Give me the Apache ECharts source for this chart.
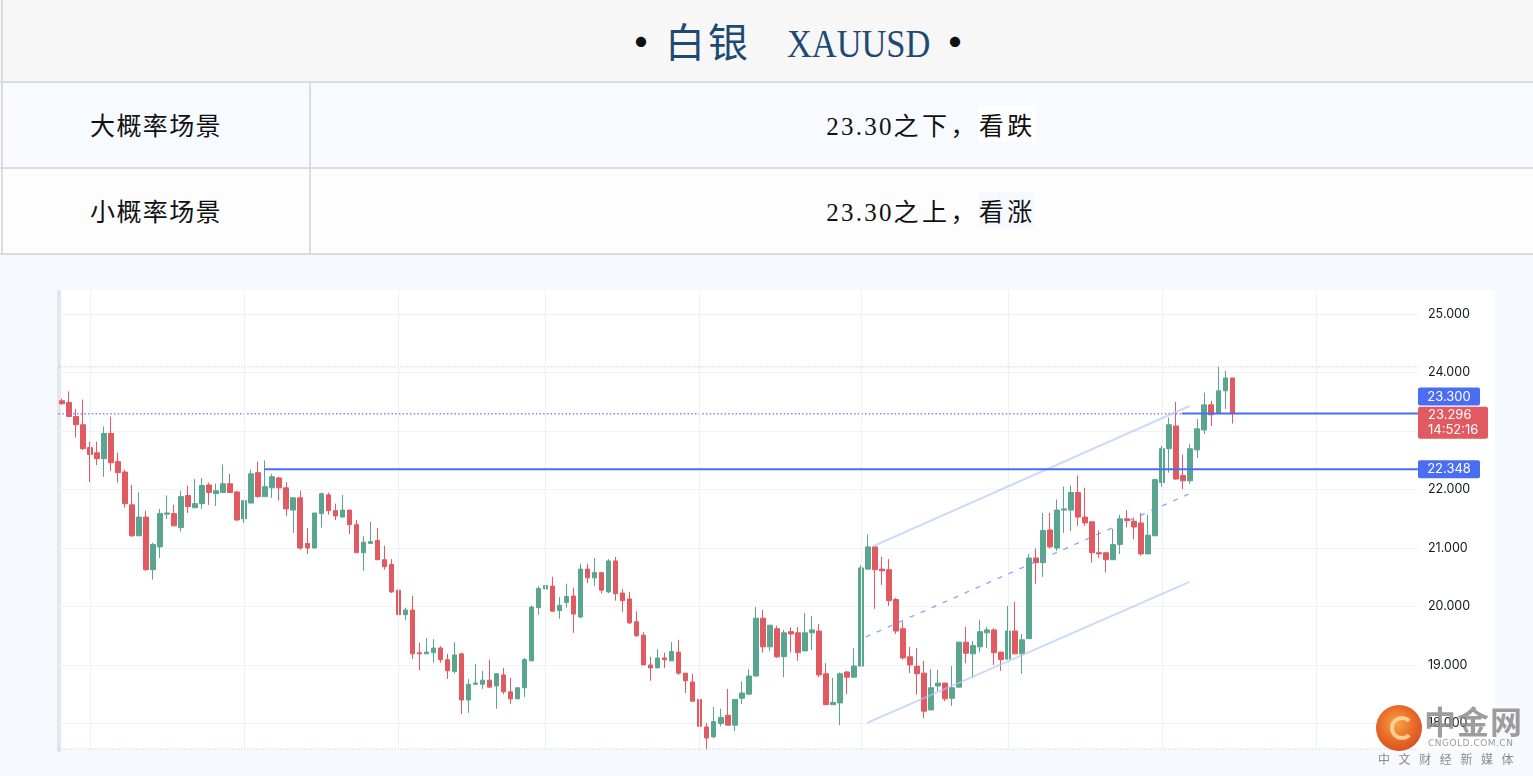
<!DOCTYPE html>
<html>
<head>
<meta charset="utf-8">
<script src="https://cdn.jsdelivr.net/npm/echarts@6/dist/echarts.min.js"></script>
<style>
html,body{margin:0;padding:0;width:1533px;height:776px;overflow:hidden;background:#f6f9fe;font-family:"Noto Sans CJK SC",sans-serif;}
.abs{position:absolute;}
.hline{position:absolute;left:0;width:1533px;height:2px;background:#dcdcdc;}
.serif{font-family:"Liberation Serif","DejaVu Serif",serif;}
.cjk{font-family:"Noto Sans CJK SC",sans-serif;}
</style>
</head>
<body>
<!-- header table -->
<div class="abs" style="left:0;top:0;width:1533px;height:82px;background:#f7f7f7;"></div>
<div class="abs" style="left:0;top:83px;width:1533px;height:85px;background:#f7faff;"></div>
<div class="abs" style="left:0;top:169px;width:1533px;height:85px;background:#fdfdfd;"></div>
<div class="hline" style="top:81px;"></div>
<div class="hline" style="top:167px;"></div>
<div class="hline" style="top:253px;"></div>
<div class="abs" style="left:1px;top:0;width:2px;height:254px;background:#dcdcdc;"></div>
<div class="abs" style="left:309px;top:82px;width:2px;height:172px;background:#dcdcdc;"></div>

<div class="abs" style="left:798px;top:12px;transform:translateX(-50%);white-space:nowrap;color:#1d4a72;font-size:40px;line-height:56px;">
  <span class="cjk" style="color:#111;margin-right:4px;font-weight:bold;">•</span><span class="cjk" style="letter-spacing:3px;">白银</span><span class="serif" style="display:inline-block;width:36px;"></span><span class="serif" style="display:inline-block;transform:scaleX(0.86);transform-origin:left center;width:143px;">XAUUSD</span><span class="cjk" style="color:#111;margin-left:5px;font-weight:bold;">•</span>
</div>

<div class="abs cjk" style="left:156px;top:104px;transform:translateX(-50%);white-space:nowrap;color:#111;font-size:25px;line-height:40px;letter-spacing:1.4px;">大概率场景</div>
<div class="abs cjk" style="left:156px;top:190px;transform:translateX(-50%);white-space:nowrap;color:#111;font-size:25px;line-height:40px;letter-spacing:1.4px;">小概率场景</div>

<div class="abs" style="left:931px;top:104px;transform:translateX(-50%);white-space:nowrap;color:#111;line-height:40px;">
  <span class="serif" style="font-size:25px;letter-spacing:2.2px;">23.30</span><span class="cjk" style="font-size:25px;letter-spacing:3.4px;">之下，</span><span class="cjk" style="font-size:25px;letter-spacing:3.4px;background:#ffffff;">看跌</span>
</div>
<div class="abs" style="left:931px;top:190px;transform:translateX(-50%);white-space:nowrap;color:#111;line-height:40px;">
  <span class="serif" style="font-size:25px;letter-spacing:2.2px;">23.30</span><span class="cjk" style="font-size:25px;letter-spacing:3.4px;">之上，</span><span class="cjk" style="font-size:25px;letter-spacing:3.4px;background:#f6f9ff;">看涨</span>
</div>

<!-- chart image background -->
<div class="abs" style="left:58px;top:290px;width:1437px;height:460px;background:#ffffff;"></div>
<div class="abs" style="left:57px;top:290px;width:4px;height:462px;background:#e2e6ef;"></div>

<div id="chart" class="abs" style="left:0;top:0;width:1533px;height:776px;"></div>

<!-- watermark -->
<div class="abs" style="left:1376px;top:705px;width:46px;height:46px;border-radius:50%;background:radial-gradient(circle at 45% 40%,#f5a03a 0%,#e8641c 45%,#c8300f 100%);opacity:0.95;"></div>
<div class="abs" style="left:1390px;top:716px;width:16px;height:16px;border-radius:50%;border:4px solid #fbd59a;border-right-color:transparent;opacity:0.9;"></div>
<div class="abs cjk" style="left:1424px;top:698px;font-size:32px;font-weight:bold;color:#8c8c8c;opacity:0.85;line-height:44px;letter-spacing:1px;">中金网</div>
<div class="abs" style="left:1428px;top:738px;font-family:'DejaVu Sans',sans-serif;font-size:9px;color:#9a9a9a;letter-spacing:0.5px;">CNGOLD.COM.CN</div>
<div class="abs cjk" style="left:1378px;top:750px;font-size:12px;color:#8a8a8a;letter-spacing:8.6px;white-space:nowrap;">中文财经新媒体</div>

<script>
// ---- data (open, close, low, high) ----
const ohlc = [
[23.52,23.47,23.45,23.56],[23.49,23.25,23.24,23.68],[23.25,23.11,22.89,23.38],[23.11,22.70,22.68,23.54],
[22.72,22.60,22.13,22.82],[22.63,22.53,22.42,22.82],[22.53,22.96,22.22,23.08],[22.96,22.46,22.32,23.25],
[22.48,22.29,22.12,22.63],[22.30,21.76,21.69,22.34],[21.74,21.21,21.19,22.08],[21.21,21.53,21.21,21.95],
[21.53,20.63,20.61,21.64],[20.63,21.06,20.46,21.09],[21.02,21.59,20.83,21.67],[21.58,21.60,21.50,21.90],
[21.59,21.38,21.38,21.74],[21.35,21.88,21.28,21.98],[21.90,21.71,21.60,22.07],[21.69,21.76,21.69,22.18],
[21.76,22.07,21.67,22.20],[22.08,21.95,21.74,22.12],[21.93,21.98,21.72,22.10],[21.95,22.10,21.95,22.43],
[22.10,21.95,21.95,22.27],[21.96,21.48,21.46,21.98],[21.50,21.81,21.43,21.81],[21.77,22.27,21.77,22.34],
[22.29,21.88,21.86,22.48],[21.88,22.05,21.88,22.50],[22.03,22.22,21.86,22.27],[22.20,22.03,21.81,22.22],
[22.03,21.67,21.55,22.13],[21.65,21.86,21.26,21.86],[21.86,21.00,20.97,21.98],[21.08,21.00,20.90,21.34],
[21.00,21.60,21.00,21.60],[21.59,21.93,21.35,21.95],[21.91,21.64,21.57,21.95],[21.64,21.55,21.48,21.76],
[21.53,21.65,21.52,21.91],[21.65,21.40,21.24,21.65],[21.40,20.92,20.92,21.48],[20.92,21.10,20.61,21.21],
[21.08,21.11,21.08,21.45],[21.13,20.80,20.80,21.34],[20.80,20.68,20.63,21.04],[20.72,20.25,20.23,20.81],
[20.28,19.86,19.38,20.30],[19.86,19.94,19.77,19.98],[19.94,19.19,19.10,20.18],[19.21,19.19,18.91,19.38],
[19.19,19.22,19.19,19.46],[19.21,19.29,19.04,19.44],[19.29,19.09,19.04,19.32],[19.09,18.90,18.76,19.19],
[18.89,19.17,18.85,19.39],[19.19,18.40,18.16,19.21],[18.40,18.67,18.18,18.76],[18.67,18.69,18.66,19.02],
[18.67,18.74,18.59,18.90],[18.74,18.62,18.62,19.09],[18.64,18.85,18.25,18.86],[18.83,18.54,18.50,18.95],
[18.54,18.42,18.33,18.78],[18.42,18.61,18.42,18.61],[18.61,19.09,18.45,19.12],[19.07,19.99,19.07,20.02],
[19.98,20.31,19.86,20.35],[20.30,20.36,20.10,20.51],[20.35,19.92,19.92,20.51],[19.93,20.02,19.79,20.16],
[20.07,20.17,19.98,20.39],[20.18,19.87,19.55,20.32],[19.82,20.64,19.80,20.73],[20.64,20.49,20.40,20.73],
[20.49,20.58,20.35,20.83],[20.58,20.28,20.22,20.58],[20.25,20.78,20.23,20.81],[20.78,20.22,20.10,20.85],
[20.23,20.10,19.91,20.30],[20.13,19.72,19.70,20.25],[19.74,19.50,19.48,19.92],[19.51,19.00,19.00,19.56],
[19.00,18.95,18.73,19.14],[18.95,19.12,18.95,19.27],[19.12,19.09,18.95,19.21],[19.07,19.23,19.07,19.39],
[19.22,18.86,18.83,19.43],[18.86,18.73,18.52,18.86],[18.71,18.38,18.37,18.85],[18.41,17.95,17.95,18.54],
[17.94,17.75,17.56,18.01],[17.77,18.03,17.75,18.28],[18.00,18.10,17.95,18.25],[18.14,17.97,17.97,18.59],
[17.97,18.41,17.87,18.41],[18.43,18.52,18.33,18.72],[18.50,18.81,18.50,18.93],[18.81,19.80,18.81,19.99],
[19.80,19.31,19.21,19.94],[19.31,19.68,19.24,19.68],[19.62,19.14,19.12,19.67],[19.14,19.55,18.79,19.60],
[19.57,19.53,19.21,19.64],[19.55,19.21,19.07,19.65],[19.24,19.55,19.24,19.89],[19.55,19.60,19.26,19.84],
[19.58,18.83,18.79,19.70],[18.85,18.32,18.32,19.03],[18.32,18.36,18.32,18.78],[18.35,18.85,17.97,18.87],
[18.88,18.79,18.50,18.90],[18.79,18.98,18.79,19.29],[18.98,20.66,18.98,20.71],[20.64,21.02,20.63,21.23],
[21.02,20.63,19.96,21.02],[20.64,20.61,20.37,20.85],[20.63,20.10,20.01,20.81],[20.12,19.58,19.53,20.15],
[19.62,19.12,19.09,19.74],[19.14,19.00,18.86,19.31],[18.98,18.85,18.49,19.29],[18.86,18.21,18.09,19.07],
[18.23,18.61,18.23,18.93],[18.64,18.69,18.55,18.92],[18.69,18.42,18.38,18.69],[18.43,18.61,18.30,18.98],
[18.62,19.39,18.62,19.39],[19.39,19.20,19.03,19.65],[19.19,19.33,18.78,19.41],[19.31,19.57,19.22,19.77],
[19.55,19.60,19.29,19.65],[19.60,19.21,19.00,19.63],[19.22,19.09,18.90,19.22],[19.10,19.58,19.10,20.01],
[19.58,19.19,19.19,20.08],[19.19,19.43,18.85,19.53],[19.45,20.83,19.45,20.90],[20.83,20.75,20.39,20.99],
[20.75,21.30,20.51,21.60],[21.31,21.02,20.99,21.60],[21.00,21.65,20.95,21.83],[21.65,21.67,21.26,22.05],
[21.65,21.95,21.29,22.07],[21.95,21.53,21.38,22.24],[21.53,21.43,21.38,22.03],[21.45,20.92,20.75,21.45],
[20.92,20.90,20.83,21.30],[20.92,20.80,20.58,20.92],[20.80,21.06,20.80,21.33],[21.06,21.50,20.90,21.57],
[21.50,21.47,21.35,21.65],[21.46,21.36,21.15,21.52],[21.43,20.90,20.87,21.60],[20.90,21.22,20.90,21.57],
[21.21,22.17,21.21,22.19],[22.12,22.70,22.05,22.75],[22.70,23.11,22.29,23.23],[23.09,22.18,22.17,23.50],
[22.24,22.15,22.01,22.60],[22.15,22.70,22.10,22.78],[22.68,23.04,22.54,23.21],[23.02,23.45,22.95,23.66],
[23.45,23.28,23.09,23.52],[23.30,23.69,23.30,24.10],[23.69,23.91,23.38,24.03],[23.91,23.296,23.13,23.91]
];
const emptyBarsRight = 26;
const yTicks = [18, 19, 20, 21, 22, 23, 24, 25];
const monthStarts = [4, 26, 48, 69, 91, 114, 135, 157, 179];
// channel drawn on the chart: [barIndex, price]
const channelUpper = [[115.7, 21.03], [160.9, 23.43]];
const channelMid   = [[114.7, 19.48], [160.9, 21.93]];
const channelLower = [[114.9, 18.01], [160.9, 20.42]];
// horizontal levels
const supportLevel = 22.348, supportFrom = 28.9;
const keyLevel = 23.300, keyFrom = 159.8;
const lastPrice = 23.296;
const countdown = '14:52:16';

// ---- build ----
const nCat = ohlc.length + emptyBarsRight;
const categories = Array.from({length: nCat}, (_, i) => String(i));
const xEnd = nCat - 0.5;
const hiAll = Math.max(...ohlc.map(d => d[3]));
const loAll = Math.min(...ohlc.map(d => d[2]));

const UP = '#5aa58e', DOWN = '#e25a61', BLUE = '#4b6df4';

const chart = echarts.init(document.getElementById('chart'), null, {renderer: 'canvas'});
const grid = {left: 58.5, top: 290, width: 1359.5, height: 460};

function seg(pts, color, width, type, z) {
  return {type: 'line', xAxisIndex: 1, yAxisIndex: 0, data: pts, showSymbol: false, symbol: 'none',
    silent: true, animation: false, z: z || 5,
    lineStyle: {color: color, width: width, type: type || 'solid'}};
}

chart.setOption({
  animation: false,
  backgroundColor: 'transparent',
  grid: grid,
  xAxis: [
    {type: 'category', data: categories, boundaryGap: true,
     axisLine: {show: false}, axisTick: {show: false}, axisLabel: {show: false}, splitLine: {show: false}},
    {type: 'value', min: -0.5, max: xEnd, show: false}
  ],
  yAxis: [{
    type: 'value', position: 'right', min: 17.545, max: 25.415, scale: true,
    axisLine: {show: false},
    axisTick: {show: false, customValues: yTicks},
    axisLabel: {customValues: yTicks, formatter: v => v.toFixed(3), color: '#131722',
      fontFamily: 'Inter, Roboto, sans-serif', fontSize: 12.5, margin: 10},
    splitLine: {show: true, lineStyle: {color: '#f0f2f6', width: 1}}
  }],
  series: [
    {type: 'line', xAxisIndex: 1, yAxisIndex: 0, data: [], silent: true, z: 0,
     markLine: {silent: true, symbol: 'none', label: {show: false}, animation: false,
       lineStyle: {color: '#eef0f4', width: 1, type: 'solid'},
       data: monthStarts.map(v => ({xAxis: v}))}},
    seg([[-0.5, hiAll], [xEnd, hiAll]], '#b4b8c0', 1, [1, 2], 1),
    seg([[-0.5, loAll], [xEnd, loAll]], '#b4b8c0', 1, [1, 2], 1),
    {type: 'candlestick', xAxisIndex: 0, yAxisIndex: 0, data: ohlc, barWidth: '72%', z: 3,
     itemStyle: {color: UP, color0: DOWN, borderColor: UP, borderColor0: DOWN, borderWidth: 1}},
    seg([[-0.5, lastPrice], [keyFrom, lastPrice]], '#8a84e6', 1.5, [1.5, 2.2], 4),
    seg(channelUpper, 'rgba(176,196,245,0.65)', 2),
    seg(channelMid, 'rgba(110,140,240,0.75)', 1.4, [5, 7]),
    seg(channelLower, 'rgba(176,196,245,0.65)', 2),
    seg([[supportFrom, supportLevel], [xEnd, supportLevel]], BLUE, 2, 'solid', 6),
    seg([[keyFrom, keyLevel], [xEnd, keyLevel]], BLUE, 2, 'solid', 6)
  ]
});

// price tags on the axis, positioned through the chart scales
const xRight = chart.convertToPixel({xAxisIndex: 1}, xEnd);
function yOf(v) { return chart.convertToPixel({yAxisIndex: 0}, v); }
const tagFont = '13px Inter, Roboto, sans-serif';
const ySup = yOf(supportLevel), yKey = yOf(keyLevel), yLast = yOf(lastPrice);
const graphics = [
  {type: 'rect', shape: {x: xRight, y: ySup - 9, width: 62, height: 18, r: 2}, style: {fill: BLUE}, z: 10},
  {type: 'text', x: xRight + 31, y: ySup, style: {text: supportLevel.toFixed(3), fill: '#fff', font: tagFont, align: 'center', verticalAlign: 'middle'}, z: 11},
  {type: 'rect', shape: {x: xRight, y: yKey - 26, width: 62, height: 18, r: 2}, style: {fill: BLUE}, z: 10},
  {type: 'text', x: xRight + 31, y: yKey - 17, style: {text: keyLevel.toFixed(3), fill: '#fff', font: tagFont, align: 'center', verticalAlign: 'middle'}, z: 11},
  {type: 'rect', shape: {x: xRight, y: yLast - 7, width: 70, height: 32, r: 2}, style: {fill: DOWN}, z: 10},
  {type: 'text', x: xRight + 10, y: yLast + 1.5, style: {text: lastPrice.toFixed(3), fill: '#fff', font: tagFont, align: 'left', verticalAlign: 'middle'}, z: 11},
  {type: 'text', x: xRight + 10, y: yLast + 16.5, style: {text: countdown, fill: '#fff', font: tagFont, align: 'left', verticalAlign: 'middle'}, z: 11}
];
chart.setOption({graphic: graphics});
</script>
</body>
</html>
